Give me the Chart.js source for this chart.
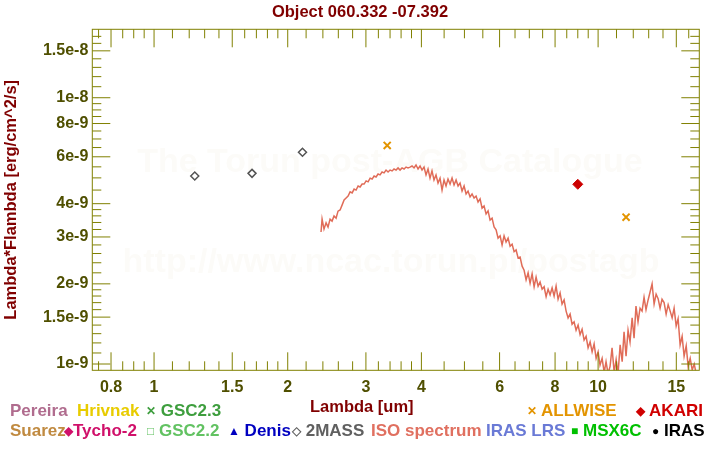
<!DOCTYPE html>
<html>
<head>
<meta charset="utf-8">
<script src="https://cdn.jsdelivr.net/npm/chart.js@4.4.1/dist/chart.umd.min.js"></script>
<style>
  body { margin: 0; background: #fff; }
  #wrap { position: relative; width: 720px; height: 450px; font-family: "Liberation Sans", Arial, sans-serif; font-weight: bold; }
  #wrap canvas { position: absolute; left: 0; top: 0; }
  .lab { position: absolute; white-space: nowrap; font-size: 17px; line-height: 20px; }
  .sym { font-size: 12px; vertical-align: 1px; }
  #title { position: absolute; left: 0; width: 720px; top: 1px; text-align: center; font-size: 16.5px; line-height: 20px; color: #800000; }
</style>
</head>
<body>
<div id="wrap">
  <canvas id="sed" width="720" height="450"></canvas>

  <div id="title">Object 060.332 -07.392</div>
  <div class="lab" style="left:310px; top:395.5px; font-size:16.5px; color:#800000">Lambda [um]</div>

  <div class="lab" style="left:10px; top:400.5px; color:#b06c8e">Pereira</div>
  <div class="lab" style="left:77px; top:400.5px; color:#e8cc00">Hrivnak</div>
  <div class="lab" style="left:146px; top:400.5px; color:#3e9e3e"><span class="sym">&#x2715;</span> GSC2.3</div>
  <div class="lab" style="left:527px; top:400.5px; color:#e39400"><span class="sym">&#x2715;</span> ALLWISE</div>
  <div class="lab" style="left:636px; top:400.5px; color:#d00000"><span class="sym">&#x25C6;</span> AKARI</div>

  <div class="lab" style="left:10px; top:420.5px; color:#c08a40">Suarez</div>
  <div class="lab" style="left:64px; top:420.5px; color:#d0106a"><span class="sym">&#x25C6;</span>Tycho-2</div>
  <div class="lab" style="left:147px; top:420.5px; color:#62c262"><span class="sym">&#x25A1;</span> GSC2.2</div>
  <div class="lab" style="left:228px; top:420.5px; color:#0000c0"><span class="sym">&#x25B2;</span> Denis</div>
  <div class="lab" style="left:292px; top:420.5px; color:#606060"><span class="sym">&#x25C7;</span> 2MASS</div>
  <div class="lab" style="left:371px; top:420.5px; color:#e07060">ISO spectrum</div>
  <div class="lab" style="left:486px; top:420.5px; color:#6a7ad6">IRAS LRS</div>
  <div class="lab" style="left:571px; top:420.5px; color:#00c000"><span class="sym">&#x25A0;</span> MSX6C</div>
  <div class="lab" style="left:652px; top:420.5px; color:#000000"><span class="sym">&#x25CF;</span> IRAS</div>
</div>

<script>
// SED of object 060.332 -07.392 (Torun post-AGB catalogue style plot)
// wavelengths in um, fluxes as lambda*F_lambda in units of 1e-9 erg/cm^2/s

const OLIVE = "#808000";
const TICK_TEXT = "#4f4f00";
const DARK_RED = "#800000";

// ISO SWS spectrum (noise included)
const isoWave = [
  2.377, 2.390, 2.414, 2.440, 2.465, 2.491, 2.517, 2.543, 2.570, 2.596,
  2.624, 2.651, 2.679, 2.707, 2.735, 2.764, 2.793, 2.822, 2.851, 2.881,
  2.911, 2.941, 2.972, 3.003, 3.034, 3.066, 3.098, 3.130, 3.162, 3.195,
  3.228, 3.262, 3.296, 3.330, 3.365, 3.400, 3.436, 3.471, 3.508, 3.544,
  3.581, 3.618, 3.656, 3.694, 3.732, 3.771, 3.811, 3.850, 3.890, 3.931,
  3.972, 4.013, 4.055, 4.097, 4.140, 4.183, 4.226, 4.270, 4.315, 4.360,
  4.406, 4.452, 4.498, 4.545, 4.592, 4.641, 4.689, 4.738, 4.788, 4.838,
  4.888, 4.939, 4.991, 5.043, 5.095, 5.148, 5.202, 5.256, 5.311, 5.366,
  5.423, 5.479, 5.536, 5.594, 5.652, 5.711, 5.771, 5.831, 5.892, 5.953,
  6.016, 6.078, 6.141, 6.205, 6.270, 6.336, 6.402, 6.469, 6.536, 6.604,
  6.673, 6.743, 6.813, 6.884, 6.956, 7.028, 7.102, 7.176, 7.250, 7.326,
  7.402, 7.480, 7.558, 7.637, 7.716, 7.796, 7.878, 7.960, 8.042, 8.126,
  8.211, 8.296, 8.383, 8.471, 8.559, 8.648, 8.738, 8.829, 8.921, 9.014,
  9.108, 9.203, 9.299, 9.396, 9.494, 9.594, 9.694, 9.795, 9.897, 10.00,
  10.10, 10.21, 10.32, 10.42, 10.53, 10.64, 10.75, 10.87, 10.98, 11.09,
  11.21, 11.33, 11.44, 11.56, 11.68, 11.80, 11.93, 12.05, 12.17, 12.30,
  12.43, 12.56, 12.69, 12.82, 12.96, 13.09, 13.23, 13.37, 13.51, 13.65,
  13.79, 13.93, 14.08, 14.23, 14.38, 14.53, 14.68, 14.83, 14.99, 15.14,
  15.30, 15.46, 15.62, 15.79, 15.95, 16.12, 16.29, 16.46, 16.63, 16.80
];
const isoFlux = [
  3.13, 3.50, 3.21, 3.39, 3.27, 3.50, 3.44, 3.60, 3.53, 3.75,
  3.79, 3.95, 4.13, 4.20, 4.27, 4.43, 4.39, 4.54, 4.50, 4.66,
  4.62, 4.74, 4.74, 4.87, 4.83, 4.99, 4.95, 5.08, 5.04, 5.17,
  5.13, 5.26, 5.22, 5.35, 5.26, 5.35, 5.31, 5.40, 5.35, 5.45,
  5.35, 5.45, 5.40, 5.49, 5.45, 5.49, 5.54, 5.45, 5.59, 5.40,
  5.54, 5.35, 5.49, 5.13, 5.40, 4.99, 5.31, 4.91, 5.13, 4.78,
  4.99, 4.50, 4.91, 4.66, 4.95, 4.74, 4.99, 4.70, 4.91, 4.66,
  4.78, 4.46, 4.66, 4.35, 4.46, 4.24, 4.35, 4.20, 4.27, 4.06,
  4.17, 3.85, 3.92, 3.66, 3.76, 3.47, 3.53, 3.27, 3.19, 2.97,
  3.03, 2.80, 3.03, 2.87, 2.97, 2.77, 2.82, 2.64, 2.68, 2.50,
  2.52, 2.33, 2.25, 2.07, 2.20, 2.01, 2.18, 1.95, 2.12, 1.96,
  2.03, 1.91, 1.95, 1.79, 1.91, 1.82, 1.93, 1.80, 1.96, 1.75,
  1.85, 1.68, 1.74, 1.58, 1.49, 1.54, 1.41, 1.44, 1.34, 1.40,
  1.29, 1.35, 1.23, 1.27, 1.15, 1.21, 1.11, 1.19, 1.05, 1.11,
  0.99, 1.05, 0.93, 1.02, 0.92, 0.98, 1.15, 0.93, 1.04, 0.92,
  1.18, 1.02, 1.32, 1.07, 1.34, 1.21, 1.49, 1.25, 1.65, 1.44,
  1.62, 1.58, 1.78, 1.60, 1.74, 1.86, 2.00, 1.68, 1.83, 1.76,
  1.62, 1.75, 1.70, 1.54, 1.67, 1.58, 1.49, 1.62, 1.39, 1.48,
  1.18, 1.27, 1.07, 1.17, 0.98, 1.05, 0.95, 1.00, 0.92, 0.93
];

// photometry
const twomassWave = [1.235, 1.662, 2.159];
const twomassFlux = [5.08, 5.20, 6.24];
const allwiseWave = [3.35, 11.56];
const allwiseFlux = [6.62, 3.56];
const akariWave = [9.0];
const akariFlux = [4.73];

// axes
const xMajor = [0.8, 1, 1.5, 2, 3, 4, 6, 8, 10, 15];
const xLabels = ["0.8", "1", "1.5", "2", "3", "4", "6", "8", "10", "15"];
const xMinor = [0.75, 0.85, 0.9, 0.95, 1.1, 1.2, 1.3, 1.4, 1.6, 1.7, 1.8, 1.9,
  2.2, 2.4, 2.6, 2.8, 3.2, 3.4, 3.6, 3.8, 4.5, 5, 5.5, 6.5, 7, 7.5, 8.5, 9, 9.5,
  11, 12, 13, 14, 16];
const yMajor = [1, 1.5, 2, 3, 4, 6, 8, 10, 15];
const yLabels = ["1e-9", "1.5e-9", "2e-9", "3e-9", "4e-9", "6e-9", "8e-9", "1e-8", "1.5e-8"];
const yMinor = [1.1, 1.2, 1.3, 1.4, 1.6, 1.7, 1.8, 1.9, 2.2, 2.4, 2.6, 2.8,
  3.2, 3.4, 3.6, 3.8, 4.5, 5, 5.5, 6.5, 7, 7.5, 8.5, 9, 9.5, 11, 12, 13, 14, 16, 17];
const xRange = [0.726, 16.9];
const yRange = [0.947, 18.07];

const pts = (xs, ys) => xs.map((x, i) => ({ x, y: ys[i] }));

Chart.defaults.font.family = "'Liberation Sans', Arial, sans-serif";

// faint catalogue watermark behind the data
const watermark = {
  id: "watermark",
  beforeDatasetsDraw(chart) {
    const { ctx } = chart;
    ctx.save();
    ctx.fillStyle = "#fcfbf8";
    ctx.font = "bold 34px 'Liberation Sans', Arial, sans-serif";
    ctx.textAlign = "center";
    ctx.textBaseline = "middle";
    ctx.fillText("The Torun post-AGB Catalogue", 390, 163);
    ctx.fillText("http://www.ncac.torun.pl/postagb", 391, 263);
    ctx.restore();
  },
};

// box frame with inward ticks on all four sides
const frameTicks = {
  id: "frameTicks",
  afterDraw(chart) {
    const { ctx, chartArea: a, scales: { x, y } } = chart;
    ctx.save();
    ctx.strokeStyle = OLIVE;
    ctx.lineWidth = 1;
    ctx.beginPath();
    const vt = (v, len) => {
      const p = x.getPixelForValue(v);
      ctx.moveTo(p, a.bottom); ctx.lineTo(p, a.bottom - len);
      ctx.moveTo(p, a.top); ctx.lineTo(p, a.top + len);
    };
    const ht = (v, len) => {
      const p = y.getPixelForValue(v);
      ctx.moveTo(a.left, p); ctx.lineTo(a.left + len, p);
      ctx.moveTo(a.right, p); ctx.lineTo(a.right - len, p);
    };
    xMajor.forEach((v) => vt(v, 18));
    xMinor.forEach((v) => vt(v, 9));
    yMajor.forEach((v) => ht(v, 18));
    yMinor.forEach((v) => ht(v, 9));
    ctx.stroke();
    ctx.strokeRect(a.left, a.top, a.right - a.left, a.bottom - a.top);
    ctx.restore();
  },
};

const tickFont = { size: 16, weight: "bold" };

new Chart(document.getElementById("sed"), {
  type: "scatter",
  data: {
    datasets: [
      {
        label: "ISO spectrum",
        data: pts(isoWave, isoFlux),
        showLine: true,
        borderColor: "#e06c58",
        borderWidth: 1.5,
        pointRadius: 0,
      },
      {
        label: "2MASS",
        data: pts(twomassWave, twomassFlux),
        pointStyle: "rectRot",
        pointRadius: 4,
        borderColor: "#555555",
        backgroundColor: "rgba(0,0,0,0)",
        pointBorderWidth: 1.5,
      },
      {
        label: "ALLWISE",
        data: pts(allwiseWave, allwiseFlux),
        pointStyle: "crossRot",
        pointRadius: 5,
        borderColor: "#e39400",
        pointBorderWidth: 2,
      },
      {
        label: "AKARI",
        data: pts(akariWave, akariFlux),
        pointStyle: "rectRot",
        pointRadius: 5,
        borderColor: "#cc0000",
        backgroundColor: "#cc0000",
      },
    ],
  },
  options: {
    responsive: false,
    animation: false,
    events: [],
    layout: { padding: { left: 0, right: 20.7, top: 29.3, bottom: 0 } },
    plugins: {
      legend: { display: false },
      tooltip: { enabled: false },
      title: { display: false },
    },
    scales: {
      x: {
        type: "logarithmic",
        bounds: "data",
        min: xRange[0],
        max: xRange[1],
        grid: { display: false, drawTicks: false },
        border: { display: false },
        afterBuildTicks: (s) => { s.ticks = xMajor.map((v) => ({ value: v })); },
        afterFit: (s) => { s.height = 79.7; },
        ticks: {
          callback: (v, i) => xLabels[i],
          color: TICK_TEXT,
          font: tickFont,
          padding: 8,
          maxRotation: 0,
          autoSkip: false,
        },
      },
      y: {
        type: "logarithmic",
        bounds: "data",
        min: yRange[0],
        max: yRange[1],
        grid: { display: false, drawTicks: false },
        border: { display: false },
        afterBuildTicks: (s) => { s.ticks = yMajor.map((v) => ({ value: v })); },
        afterFit: (s) => { s.width = 92.3; },
        ticks: {
          callback: (v, i) => yLabels[i],
          color: TICK_TEXT,
          font: tickFont,
          padding: 4,
          autoSkip: false,
        },
        title: {
          display: true,
          text: "Lambda*Flambda [erg/cm^2/s]",
          color: DARK_RED,
          font: { size: 16.5, weight: "bold" },
          padding: { top: 1.5, bottom: 0 },
        },
      },
    },
  },
  plugins: [watermark, frameTicks],
});
</script>
</body>
</html>
